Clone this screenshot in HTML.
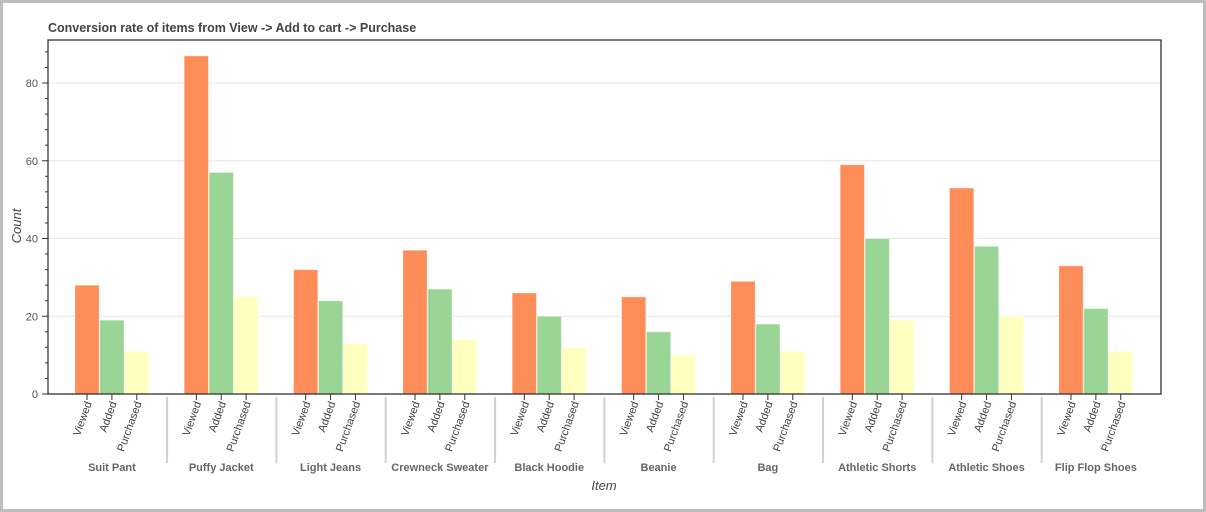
<!DOCTYPE html>
<html><head><meta charset="utf-8">
<style>
html,body{margin:0;padding:0;background:#fff;}
#frame{position:absolute;left:0;top:0;width:1200px;height:506px;border:3px solid #bdbdbd;background:#fff;}
svg{position:absolute;left:0;top:0;}
text{font-family:"Liberation Sans",Arial,sans-serif;}
</style></head>
<body>
<div id="frame"></div>
<svg id="chart" width="1206" height="512"></svg>
<script>
const items = ["Suit Pant","Puffy Jacket","Light Jeans","Crewneck Sweater","Black Hoodie","Beanie","Bag","Athletic Shorts","Athletic Shoes","Flip Flop Shoes"];
const stages = ["Viewed","Added","Purchased"];
const viewed = [28,87,32,37,26,25,29,59,53,33];
const added = [19,57,24,27,20,16,18,40,38,22];
const purchased = [11,25,13,14,12,10,11,19,20,11];
const yTicks = [0,20,40,60,80];
const colors = ["#fc8d59","#99d594","#ffffbf"];

const svg = document.getElementById('chart');
const NS = "http://www.w3.org/2000/svg";
const L=48, R=1161, T=40, B=394;
const pxPerUnit = (394-83)/80;
function yScale(v){ return B - v*pxPerUnit; }
const groupPitch = 109.33, barPitch = 24.9, firstCenter = 87;
function xScale(g, j){ return firstCenter + g*groupPitch + j*barPitch; }
function mk(tag, attrs){ const e=document.createElementNS(NS,tag); for(const k in attrs) e.setAttribute(k, attrs[k]); svg.appendChild(e); return e; }

let t = mk('text',{x:48,y:32,'font-size':12.5,'font-weight':'bold',fill:'#444'});
t.textContent = "Conversion rate of items from View -> Add to cart -> Purchase";



yTicks.forEach(v=>{
  if(v===0) return;
  const g = mk('line',{x1:L,x2:R,y1:yScale(v),y2:yScale(v),stroke:'#e5e5e5','stroke-width':1});
  
  
});

const series=[viewed,added,purchased];
series.forEach((vals,j)=>{
  vals.forEach((v,g)=>{
    const cx = xScale(g,j);
    const r = mk('rect',{x:cx-12.2,y:yScale(v),width:24.4,height:B-yScale(v),fill:colors[j],stroke:'#ffffff','stroke-opacity':0.5,'stroke-width':1});
    
    
  });
});

const fr = mk('rect',{x:L,y:T,width:R-L,height:B-T,fill:'none',stroke:'#333','stroke-width':1.3});



for(let v=0; v<=90; v+=4){
  if(yScale(v)<T) break;
  const major = v%20===0;
  const tk = mk('line',{x1:L-(major?6:3),x2:L,y1:yScale(v),y2:yScale(v),stroke:'#333','stroke-width':1});
  
  
}
yTicks.forEach(v=>{
  const lb = mk('text',{x:L-10,y:yScale(v)+4,'font-size':11,fill:'#555','text-anchor':'end'});
  lb.textContent = v;
  
  
});
const yt = mk('text',{x:0,y:0,'font-size':13,'font-style':'italic',fill:'#444','text-anchor':'middle',transform:'translate(21,226) rotate(-90)'});
yt.textContent='Count';



items.forEach((name,g)=>{
  stages.forEach((s,j)=>{
    const cx = xScale(g,j);
    const tk = mk('line',{x1:cx,x2:cx,y1:B,y2:B+6,stroke:'#333','stroke-width':1});
    
    
    const lb = mk('text',{x:0,y:0,'font-size':11,fill:'#444','text-anchor':'end',transform:`translate(${cx+5},${B+9}) rotate(-70)`});
    lb.textContent = s;
    
    
  });
  const gl = mk('text',{x:xScale(g,1),y:471,'font-size':11,'font-weight':'bold',fill:'#666','text-anchor':'middle'});
  gl.textContent = name;
  
  
  if(g>0){
    const sx = xScale(g,0) - barPitch - (groupPitch-3*barPitch)/2 + barPitch/2 + 0.5;
    const sep = mk('line',{x1:sx,x2:sx,y1:397,y2:463,stroke:'#d0d0d0','stroke-width':2});
    
    
  }
});
const xt = mk('text',{x:604,y:490,'font-size':13,'font-style':'italic',fill:'#444','text-anchor':'middle'});
xt.textContent='Item';


</script>
</body></html>
